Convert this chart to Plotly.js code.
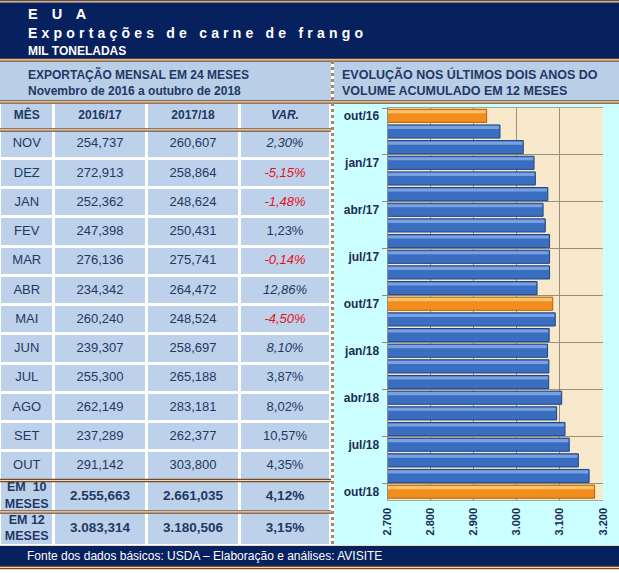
<!DOCTYPE html>
<html><head><meta charset="utf-8">
<script src="https://cdn.plot.ly/plotly-3.0.1.min.js"></script>
<style>html,body{margin:0;padding:0;background:#fff}#chart{width:619px;height:573px}</style>
</head><body><div id="chart"></div>
<script>
// ---------------- DATA ----------------
const colHeaders = ['MÊS', '2016/17', '2017/18', 'VAR.'];
const meses = ['NOV','DEZ','JAN','FEV','MAR','ABR','MAI','JUN','JUL','AGO','SET','OUT'];
const exp1617 = [254.737,272.913,252.362,247.398,276.136,234.342,260.240,239.307,255.300,262.149,237.289,291.142];
const exp1718 = [260.607,258.864,248.624,250.431,275.741,264.472,248.524,258.697,265.188,283.181,262.377,303.800];
const variacao = [2.30,-5.15,-1.48,1.23,-0.14,12.86,-4.50,8.10,3.87,8.02,10.57,4.35];
const totalLabels = ['EM  10<br>MESES', 'EM 12<br>MESES'];
const total1617 = [2555.663, 3083.314];
const total1718 = [2661.035, 3180.506];
const totalVar = [4.12, 3.15];

const months = ['out/16','nov/16','dez/16','jan/17','fev/17','mar/17','abr/17','mai/17','jun/17','jul/17','ago/17','set/17',
                'out/17','nov/17','dez/17','jan/18','fev/18','mar/18','abr/18','mai/18','jun/18','jul/18','ago/18','set/18','out/18'];
const acum12 = [2930,2961,3015,3040,3043,3072,3061,3066,3076,3076,3076,3047,
                3083.3,3089.2,3075.1,3071.4,3074.4,3074.0,3104.2,3092.4,3111.8,3121.7,3142.8,3167.8,3180.5];

// ---------------- STYLE / LAYOUT ----------------
const W = 619, H = 573;
const NAVY = '#07215f', BAND = '#b9cfe8', CELL = '#bdd2ea', CYAN = '#ccffff', BEIGE = '#f8e8cc';
const BROWN = '#7a4a22', CREAM = '#e9dcc0', TXT = '#1f3864', RED = '#e8101e';
const ARIAL = 'Liberation Sans, Arial, sans-serif';
const NARROW = 'Liberation Sans Narrow, Arial Narrow, Liberation Sans, sans-serif';
const italicVar = [true,true,true,false,true,true,true,true,false,false,false,false];
const colEdges = [0, 53.5, 146.5, 239.5, 330.5];
const rowEdges = [103, 129.5];
for (let i = 0; i < meses.length; i++) rowEdges.push(rowEdges[rowEdges.length-1] + 29.25);
rowEdges.push(512, 546);

const px = x => x / W;
const py = y => 1 - y / H;
const fmt3 = v => { const [i, d] = v.toFixed(3).split('.'); return i.replace(/\B(?=(\d{3})+(?!\d))/g, '.') + ',' + d; };
const fmtPct = v => v.toFixed(2).replace('.', ',') + '%';

// ---------- table cells (heatmap bricks) ----------
const nRows = rowEdges.length - 1, nCols = colEdges.length - 1;
const z = [];
for (let r = 0; r < nRows; r++) z.push(new Array(nCols).fill(1));
const cellTrace = {
  type: 'heatmap', xaxis: 'x2', yaxis: 'y2', x: colEdges, y: rowEdges, z: z,
  zmin: 0, zmax: 1, colorscale: [[0, CELL], [1, CELL]], showscale: false,
  xgap: 3, ygap: 3, hoverinfo: 'skip'
};

// ---------- table texts ----------
const T = {x: [], y: [], text: [], fam: [], size: [], col: []};
const cx = c => (colEdges[c] + colEdges[c+1]) / 2;
const cy = r => (rowEdges[r] + rowEdges[r+1]) / 2;
function put(r, c, text, fam, size, col) {
  T.x.push(cx(c)); T.y.push(cy(r)); T.text.push(text); T.fam.push(fam); T.size.push(size); T.col.push(col);
}
colHeaders.forEach((h, c) => put(0, c, c === 3 ? '<b><i>' + h + '</i></b>' : '<b>' + h + '</b>', NARROW, 12, TXT));
meses.forEach((m, i) => {
  put(i+1, 0, m, ARIAL, 13, TXT);
  put(i+1, 1, fmt3(exp1617[i]), ARIAL, 13, TXT);
  put(i+1, 2, fmt3(exp1718[i]), ARIAL, 13, TXT);
  const s = fmtPct(variacao[i]);
  put(i+1, 3, italicVar[i] ? '<i>' + s + '</i>' : s, ARIAL, 13, variacao[i] < 0 ? RED : TXT);
});
totalLabels.forEach((l, k) => {
  const r = meses.length + 1 + k;
  put(r, 0, '<b>' + l + '</b>', NARROW, 12.5, TXT);
  put(r, 1, '<b>' + fmt3(total1617[k]) + '</b>', ARIAL, 13.5, TXT);
  put(r, 2, '<b>' + fmt3(total1718[k]) + '</b>', ARIAL, 13.5, TXT);
  put(r, 3, '<b>' + fmtPct(totalVar[k]) + '</b>', ARIAL, 13.5, TXT);
});
const textTrace = {
  type: 'scatter', mode: 'text', xaxis: 'x2', yaxis: 'y2', x: T.x, y: T.y, text: T.text,
  textposition: 'middle center', textfont: {family: T.fam, size: T.size, color: T.col},
  hoverinfo: 'skip', cliponaxis: false
};

// ---------- bar chart ----------
const isOut = m => m.startsWith('out');
const barTrace = {
  type: 'bar', orientation: 'h', x: acum12, y: months, width: 0.84, offset: -0.42,
  marker: {
    color: months.map(m => isOut(m) ? '#f28c1c' : '#3a6ec0'),
    line: {color: months.map(m => isOut(m) ? '#b5650e' : '#1d4588'), width: 1}
  },
  hoverinfo: 'skip'
};
const shineTrace = {
  type: 'bar', orientation: 'h', x: acum12.map(v => v - 2), y: months, width: 0.2, offset: -0.36,
  marker: {color: months.map(m => isOut(m) ? '#fbc46c' : '#78a2e2'), line: {width: 0}},
  hoverinfo: 'skip'
};

// ---------- decorations ----------
const shapes = [];
function rect(x0, y0, x1, y1, color, layer) {
  shapes.push({type: 'rect', xref: 'paper', yref: 'paper', x0: px(x0), x1: px(x1), y0: py(y0), y1: py(y1),
    fillcolor: color, line: {width: 0}, layer: layer || 'below'});
}
function hline(x0, x1, y, color, w) {
  shapes.push({type: 'line', xref: 'paper', yref: 'paper', x0: px(x0), x1: px(x1), y0: py(y), y1: py(y),
    line: {color: color, width: w || 1}, layer: 'above'});
}
function dbl(x0, x1, y) { hline(x0, x1, y - 1.2, BROWN, 1.2); hline(x0, x1, y, CREAM, 1); hline(x0, x1, y + 1.2, BROWN, 1.2); }

rect(0, 0, W, 59, NAVY);
rect(0, 61, 331, 101, BAND);
rect(334, 61, W, 101, BAND);
rect(334, 103, W, 545, CYAN);
rect(0, 546, W, 566, NAVY);
shapes.push({type: 'rect', xref: 'x domain', yref: 'y domain', x0: 0, x1: 1, y0: 0, y1: 1,
  fillcolor: BEIGE, line: {width: 0}, layer: 'below'});

hline(0, W, 0.6, BROWN, 1.2); hline(0, W, 1.8, CREAM, 1.2);
dbl(0, W, 60);
dbl(0, W, 102);
dbl(0, 331, 130);
dbl(0, 331, 480.5);
dbl(0, 331, 512);
hline(0, W, 545.5, CREAM, 1);
dbl(0, W, 567.5);
shapes.push({type: 'line', xref: 'paper', yref: 'paper', x0: px(332.5), x1: px(332.5), y0: py(61), y1: py(545),
  line: {color: '#a8875e', width: 3, dash: 'dot'}, layer: 'above'});

// ---------- header texts ----------
const annotations = [];
function ann(text, x, y, font, anchor) {
  annotations.push({xref: 'paper', yref: 'paper', x: px(x), y: py(y), text: text, showarrow: false,
    xanchor: anchor || 'left', yanchor: 'middle', font: font});
}
ann('<b><span style="letter-spacing:5px">E U A</span></b>', 26, 14, {family: ARIAL, size: 14.5, color: '#ffffff'});
ann('<b><span style="letter-spacing:4.2px">Exportações de carne de frango</span></b>', 26, 33, {family: ARIAL, size: 14, color: '#ffffff'});
ann('<b>MIL TONELADAS</b>', 26, 50.5, {family: NARROW, size: 12, color: '#ffffff'});
ann('<b>EXPORTAÇÃO MENSAL EM 24 MESES</b>', 26, 74, {family: NARROW, size: 12, color: TXT});
ann('<b>Novembro de 2016 a outubro de 2018</b>', 26, 91, {family: NARROW, size: 12, color: TXT});
ann('<b>EVOLUÇÃO NOS ÚLTIMOS DOIS ANOS DO</b>', 340, 74, {family: NARROW, size: 12.5, color: TXT});
ann('<b>VOLUME ACUMULADO EM 12 MESES</b>', 340, 91, {family: NARROW, size: 12.5, color: TXT});
ann('Fonte dos dados básicos: USDA – Elaboração e análises: AVISITE', 25, 556, {family: ARIAL, size: 12, color: '#ffffff'});

const layout = {
  width: W, height: H, margin: {l: 0, r: 0, t: 0, b: 0},
  paper_bgcolor: '#ffffff', plot_bgcolor: 'rgba(0,0,0,0)', showlegend: false,
  separators: ',.', barmode: 'overlay',
  font: {family: ARIAL, color: TXT},
  xaxis: {
    domain: [px(387.5), px(603)], range: [2700, 3200], dtick: 100, tick0: 2700, tickformat: ',d',
    tickangle: -90, tickfont: {family: ARIAL, size: 11, weight: 'bold', color: '#1a2b55'},
    showgrid: true, gridcolor: '#97907c', gridwidth: 1, zeroline: false,
    showline: true, linecolor: '#a9a290', mirror: true, ticks: 'outside', ticklen: 3, tickcolor: 'rgba(0,0,0,0)',
    fixedrange: true
  },
  yaxis: {
    domain: [py(499.5), py(108)], type: 'category', autorange: 'reversed',
    tickmode: 'linear', tick0: 0, dtick: 3, tickson: 'boundaries',
    ticks: 'outside', ticklen: 5, tickcolor: '#8c8c8c', ticklabelstandoff: 5,
    tickfont: {family: ARIAL, size: 12, weight: 'bold', color: '#1a2b55'},
    showgrid: true, gridcolor: '#97907c', gridwidth: 1,
    showline: true, linecolor: '#8c8c8c', fixedrange: true
  },
  xaxis2: {domain: [0, 1], range: [0, W], visible: false, fixedrange: true},
  yaxis2: {domain: [0, 1], range: [H, 0], visible: false, fixedrange: true},
  shapes: shapes, annotations: annotations
};

Plotly.newPlot('chart', [barTrace, shineTrace, cellTrace, textTrace], layout, {displayModeBar: false, staticPlot: true});
</script>
</body></html>
